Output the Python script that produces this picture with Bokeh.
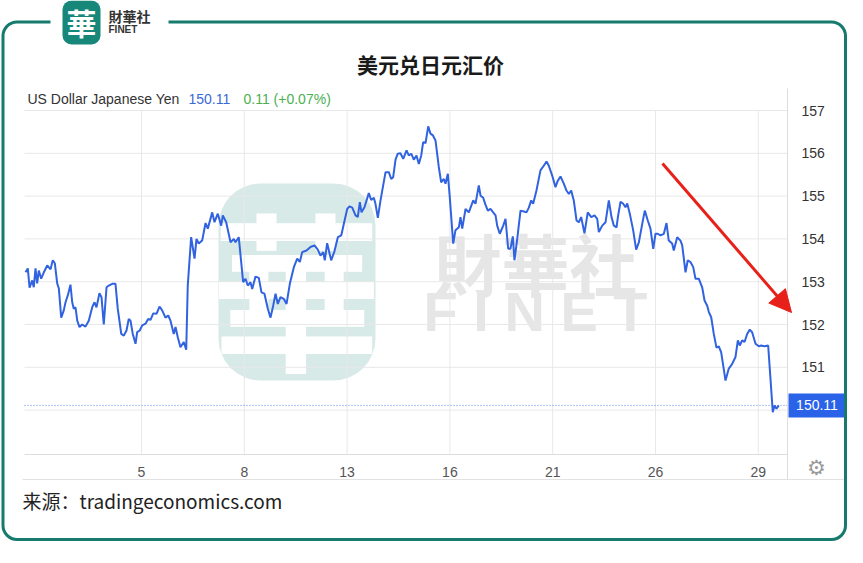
from bokeh.plotting import figure
from bokeh.models import Range1d, FixedTicker, Label, BoxAnnotation, Arrow, NormalHead
from bokeh.embed import file_html
from bokeh.resources import INLINE

# ---------------- data ----------------
tick_pos = [0, 1, 2, 3, 4, 5, 6]
tick_labels = ["5", "8", "13", "16", "21", "26", "29"]
y_ticks = [150, 151, 152, 153, 154, 155, 156, 157]

t_pos = [-1.128,-1.106,-1.089,-1.063,-1.048,-1.031,-1.015,-0.999,-0.976,-0.950,
 -0.917,-0.885,-0.863,-0.843,-0.820,-0.804,-0.781,-0.756,-0.739,-0.717,
 -0.691,-0.674,-0.659,-0.642,-0.625,-0.603,-0.577,-0.545,-0.513,-0.480,
 -0.457,-0.438,-0.409,-0.389,-0.367,-0.340,-0.318,-0.285,-0.253,-0.231,
 -0.197,-0.172,-0.146,-0.124,-0.107,-0.085,-0.058,-0.042,-0.017,0.007,
 0.039,0.065,0.088,0.114,0.146,0.175,0.201,0.233,0.260,0.282,
 0.314,0.331,0.353,0.379,0.411,0.435,0.450,0.483,0.516,0.535,
 0.557,0.590,0.623,0.645,0.688,0.710,0.742,0.775,0.791,0.824,
 0.866,0.898,0.914,0.946,0.989,1.012,1.034,1.060,1.077,1.109,
 1.141,1.167,1.196,1.229,1.255,1.281,1.304,1.326,1.352,1.384,
 1.411,1.443,1.482,1.515,1.540,1.563,1.605,1.644,1.683,1.715,
 1.741,1.768,1.783,1.806,1.845,1.877,1.910,1.943,1.968,2.001,
 2.023,2.050,2.082,2.104,2.124,2.140,2.169,2.211,2.234,2.260,
 2.276,2.299,2.325,2.351,2.374,2.406,2.429,2.448,2.471,2.493,
 2.519,2.546,2.578,2.600,2.624,2.649,2.675,2.698,2.721,2.740,
 2.763,2.789,2.811,2.834,2.860,2.892,2.915,2.941,2.957,2.980,
 2.999,3.032,3.054,3.087,3.103,3.120,3.152,3.184,3.227,3.249,
 3.281,3.298,3.324,3.346,3.369,3.395,3.421,3.444,3.460,3.485,
 3.519,3.541,3.567,3.589,3.612,3.628,3.655,3.687,3.720,3.745,
 3.768,3.791,3.810,3.842,3.881,3.913,3.940,3.962,3.995,4.027,
 4.050,4.076,4.108,4.134,4.157,4.180,4.205,4.232,4.254,4.277,
 4.309,4.341,4.375,4.407,4.433,4.449,4.482,4.514,4.546,4.572,
 4.595,4.621,4.634,4.660,4.686,4.708,4.725,4.750,4.783,4.812,
 4.838,4.871,4.896,4.925,4.951,4.978,5.000,5.022,5.049,5.081,
 5.107,5.129,5.162,5.178,5.211,5.243,5.260,5.292,5.314,5.340,
 5.367,5.389,5.421,5.454,5.477,5.503,5.519,5.542,5.567,5.593,
 5.616,5.639,5.681,5.713,5.746,5.778,5.801,5.820,5.843,5.866,
 5.892,5.917,5.940,5.973,6.005,6.028,6.060,6.096,6.141,6.158,
 6.177,6.199]

usd_jpy = [153.22,153.31,152.86,153.03,152.87,153.31,152.96,153.26,153.07,153.22,
 153.38,153.29,153.50,153.43,152.96,152.84,152.16,152.33,152.52,152.68,
 152.93,152.52,152.37,152.40,152.09,151.94,152.00,151.95,152.09,152.40,
 152.52,152.40,152.73,152.64,152.00,152.87,152.91,152.95,152.95,152.37,
 151.78,151.74,151.86,152.13,152.09,151.78,151.55,151.82,151.86,151.98,
 152.02,152.13,152.11,152.26,152.25,152.42,152.33,152.16,152.21,152.09,
 151.78,151.94,151.70,151.47,151.59,151.41,152.91,154.04,153.54,154.00,
 153.89,153.96,154.37,154.24,154.62,154.39,154.59,154.31,154.55,154.39,
 153.92,154.00,153.92,154.04,152.99,153.07,152.91,152.99,152.83,153.12,
 153.09,152.75,152.72,152.37,152.16,152.44,152.72,152.48,152.64,152.60,
 152.48,152.95,153.34,153.54,153.46,153.69,153.73,153.81,153.85,153.75,
 153.61,153.69,153.50,153.90,153.50,153.71,154.04,154.08,154.35,154.70,
 154.76,154.73,154.55,154.51,154.86,154.62,154.74,155.07,154.91,154.96,
 154.82,154.49,154.90,155.25,155.56,155.56,155.40,155.44,155.85,155.99,
 156.00,155.87,156.07,155.95,155.99,155.85,155.95,155.75,155.95,156.26,
 156.24,156.63,156.46,156.42,156.30,155.68,155.32,155.40,155.29,155.52,
 154.97,153.89,154.20,154.27,154.51,154.24,154.70,154.62,154.90,154.82,
 155.25,155.01,154.96,154.80,154.66,154.70,154.62,154.55,154.31,154.12,
 154.31,154.47,153.77,153.77,154.06,153.50,154.00,154.66,154.64,154.62,
 154.73,154.90,154.82,155.13,155.60,155.71,155.81,155.71,155.48,155.21,
 155.36,155.46,155.29,155.13,155.05,155.13,154.90,154.43,154.39,154.51,
 154.13,154.62,154.51,154.55,154.47,154.16,154.31,154.39,154.90,154.51,
 154.31,154.27,154.51,154.87,154.82,154.74,154.83,154.59,154.20,153.75,
 153.92,154.35,154.66,154.43,154.24,153.77,154.12,154.12,154.08,154.12,
 154.37,153.96,153.89,153.73,154.04,153.96,153.85,153.22,153.50,153.46,
 153.34,153.07,153.07,152.87,152.56,152.44,152.29,152.17,151.78,151.46,
 151.49,151.35,150.69,150.97,151.08,151.24,151.63,151.51,151.63,151.59,
 151.78,151.88,151.82,151.55,151.49,151.51,151.49,151.51,149.95,150.11,
 150.03,150.11]

last_value = 150.11
change_text = "0.11 (+0.07%)"
series_name = "US Dollar Japanese Yen"
title_text = "美元兑日元汇价"
source_text = "来源：tradingeconomics.com"

n = min(len(t_pos), len(usd_jpy))
t_pos, usd_jpy = t_pos[:n], usd_jpy[:n]

# ---------------- layout constants (not data) ----------------
W, H = 847, 547
PX_PER_T = 102.8          # pixels per tick step
PX_PER_Y = 42.8           # pixels per yen
T0_PX, Y157_PX = 141.0, 110.0
def t_at(px): return (px - T0_PX) / PX_PER_T
def v_at(py): return 157.0 - (py - Y157_PX) / PX_PER_Y

CH_X0, CH_X1 = t_at(24), t_at(787)      # chart area in data units
CH_Y0, CH_Y1 = v_at(454), v_at(109.5)

p = figure(width=W, height=H, output_backend="svg", toolbar_location=None,
           x_range=Range1d(t_at(0), t_at(W)), y_range=Range1d(v_at(H), v_at(0)),
           y_axis_location="right", min_border=0,
           min_border_left=0, min_border_right=0, min_border_top=0, min_border_bottom=0)
p.outline_line_color = None
p.background_fill_color = "white"
p.border_fill_color = "white"
p.xgrid.visible = False
p.ygrid.visible = False

LAT = "Liberation Sans"
CJK = "Noto Sans CJK SC"

# axes drawn at fixed places inside the canvas
p.xaxis.fixed_location = CH_Y0
p.xaxis.bounds = (CH_X0, CH_X1)
p.xaxis.ticker = FixedTicker(ticks=tick_pos)
p.xaxis.major_label_overrides = {t: s for t, s in zip(tick_pos, tick_labels)}
p.xaxis.axis_line_color = "#dddddd"
p.xaxis.major_tick_line_color = None
p.xaxis.minor_tick_line_color = None
p.xaxis.major_label_text_font = LAT
p.xaxis.major_label_text_font_size = "14px"
p.xaxis.major_label_text_color = "#555555"
p.xaxis.major_label_standoff = 6

p.yaxis.fixed_location = CH_X1
p.yaxis.bounds = (v_at(479), v_at(88))
p.yaxis.ticker = FixedTicker(ticks=y_ticks)
p.yaxis.major_label_overrides = {150: ""}
p.yaxis.axis_line_color = "#dddddd"
p.yaxis.major_tick_line_color = None
p.yaxis.minor_tick_line_color = None
p.yaxis.major_label_text_font = LAT
p.yaxis.major_label_text_font_size = "14px"
p.yaxis.major_label_text_color = "#333333"
p.yaxis.major_label_standoff = 8

# helpers: screen units from canvas bottom-left (frame == canvas)
def sy(py): return H - py

def lab(text, x, y, size, color, font=LAT, style="normal", align="left",
        baseline="middle", level="annotation", y_units="screen"):
    l = Label(x=x, y=y, x_units="screen", y_units=y_units, text=text,
              text_font=font, text_font_size=f"{size}px", text_color=color,
              text_font_style=style, text_align=align, text_baseline=baseline,
              level=level)
    p.add_layout(l)
    return l

def box(left, right, bottom, top, fill=None, line=None, lw=1, radius=0, level="annotation",
        yu="screen"):
    b = BoxAnnotation(left=left, right=right, bottom=bottom, top=top,
                      left_units="screen", right_units="screen",
                      bottom_units=yu, top_units=yu,
                      fill_color=fill if fill else "white",
                      fill_alpha=1 if fill else 0,
                      line_color=line if line else "white", line_alpha=1 if line else 0,
                      line_width=lw, border_radius=radius, level=level)
    p.add_layout(b)
    return b

# watermark
box(218, 375, sy(380), sy(183), fill="#d8eae8", radius=42, level="underlay")
lab("華", 296, sy(284), 170, "white", font=CJK, style="bold", align="center", level="underlay")
lab("財華社", 535, sy(262), 68, "#e6e6e6", font=CJK, style="bold", align="center", level="underlay")
lab("F I N E T", 535, sy(311), 56, "#e6e6e6", font=LAT, style="bold", align="center", level="underlay")

# grid lines restricted to the chart area
p.segment(x0=tick_pos, x1=tick_pos, y0=[CH_Y0] * len(tick_pos), y1=[CH_Y1] * len(tick_pos),
          line_color="#e8e8e8", line_width=1)
p.segment(x0=[CH_X0] * len(y_ticks), x1=[CH_X1] * len(y_ticks), y0=y_ticks, y1=y_ticks,
          line_color="#e8e8e8", line_width=1)

# price line + last-value guide
p.segment(x0=[CH_X0], x1=[CH_X1], y0=[last_value], y1=[last_value],
          line_color="#5f86e6", line_dash="1 2", line_width=1)
p.line(t_pos, usd_jpy, line_color="#3162e0", line_width=2)

# chart box lines
box(22, 846, sy(479.5), sy(478.5), fill="#e2e2e2")
box(845.5, 846.5, sy(479), sy(88), fill="#e2e2e2")

# price tag
box(788, 845, last_value - 0.28, last_value + 0.28, fill="#2a62e8", yu="data")
lab(f"{last_value:.2f}", 816.5, last_value, 14, "white", align="center", y_units="data")

# gear
lab("⚙", 816, sy(467), 21, "#9a9a9a", font="DejaVu Sans", align="center")

# outer frame & logo
box(2.5, 845, sy(539), sy(21.5), line="#167a6e", lw=3, radius=14)
box(50, 168, sy(29), sy(14), fill="white")
box(62, 100, sy(44), sy(0), fill="#17877a", radius=9)
lab("華", 81, sy(21), 30, "white", font=CJK, style="bold", align="center")
lab("財華社", 108, sy(15.5), 14, "#333333", font=CJK, style="bold")
lab("FINET", 108, sy(29), 10, "#333333", font=LAT, style="bold")

# title
lab(title_text, 430, sy(63), 21, "#1a1a1a", font=CJK, style="bold", align="center")

# legend header
lab(series_name, 27, sy(98), 14, "#333333")
lab(f"{last_value:.2f}", 188, sy(98), 14, "#3a6ad8")
lab(change_text, 243, sy(98), 14, "#4caf50")

# arrow
p.add_layout(Arrow(end=NormalHead(size=22, fill_color="#e8201a", line_color="#e8201a"),
                   x_start=662, y_start=sy(163), x_end=791, y_end=sy(312),
                   start_units="screen", end_units="screen",
                   line_color="#e8201a", line_width=3))

# source
lab(source_text, 22, sy(500), 19, "#222222", font=CJK)

open("out.html", "w").write(file_html(p, INLINE))
